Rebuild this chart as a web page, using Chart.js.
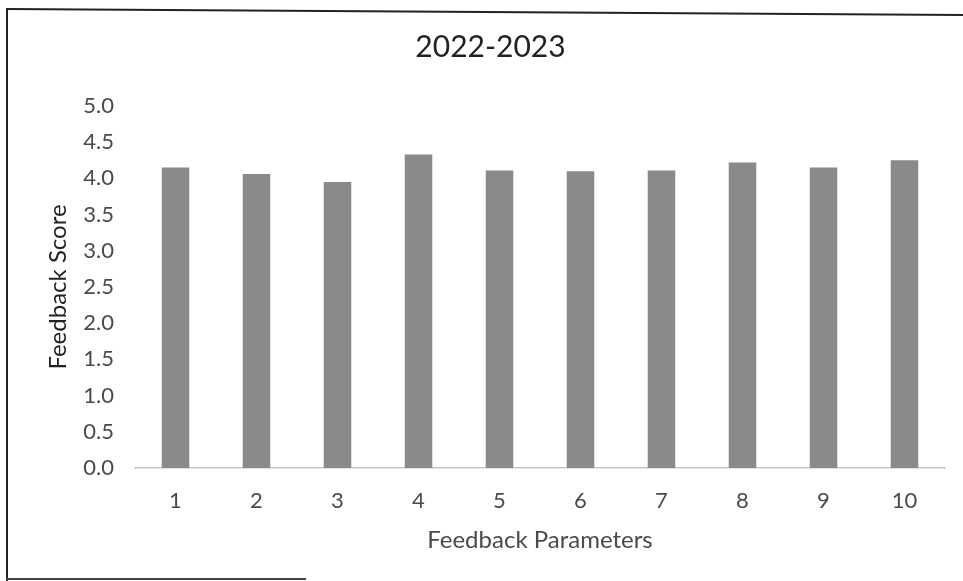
<!DOCTYPE html>
<html>
<head>
<meta charset="utf-8">
<script src="https://cdn.jsdelivr.net/npm/chart.js@4.4.0/dist/chart.umd.min.js"></script>
<style>
  html, body { margin: 0; padding: 0; background: #fff; }
  #wrap { position: relative; width: 963px; height: 581px; overflow: hidden; }
  #frameL { position: absolute; left: 6px; top: 8px; width: 2px; height: 573px; background: #222; }
  #frameT { position: absolute; left: 6px; top: 8px; width: 960px; height: 2px; background: #222;
            transform-origin: 0 0; transform: rotate(0.36deg); }
  #frameB { position: absolute; left: 6px; top: 578px; width: 300px; height: 2px; background: #444; }
  canvas { position: absolute; left: 0; top: 0; }
</style>
</head>
<body>
<div id="wrap">
  <canvas id="c" width="963" height="581"></canvas>
  <div id="frameL"></div>
  <div id="frameT"></div>
  <div id="frameB"></div>
</div>
<script>
const categories = ["1", "2", "3", "4", "5", "6", "7", "8", "9", "10"];
const feedbackScores = [4.15, 4.06, 3.95, 4.33, 4.11, 4.10, 4.11, 4.22, 4.15, 4.25];
const yTickValues = [0, 0.5, 1, 1.5, 2, 2.5, 3, 3.5, 4, 4.5, 5];
const chartTitle = "2022-2023";
const xTitle = "Feedback Parameters";
const yTitle = "Feedback Score";

const textColor = "#4a4a4a";
const fontFamily = "Lato, 'Open Sans', sans-serif";

new Chart(document.getElementById("c"), {
  type: "bar",
  data: {
    labels: categories,
    datasets: [{
      data: feedbackScores,
      backgroundColor: "#8a8a8a",
      borderWidth: 0,
      barPercentage: 0.34,
      categoryPercentage: 1.0
    }]
  },
  options: {
    responsive: false,
    animation: false,
    devicePixelRatio: 1,
    layout: { padding: { left: 36, right: 18, top: 0, bottom: 0 } },
    plugins: {
      legend: { display: false },
      tooltip: { enabled: false },
      title: {
        display: true,
        text: chartTitle,
        color: "#222",
        font: { family: fontFamily, size: 30, weight: "normal" },
        padding: { top: 29, bottom: 41 }
      }
    },
    scales: {
      x: {
        grid: { display: false, drawTicks: false },
        border: { display: true, color: "#c8c8c8", width: 1.5 },
        ticks: { color: textColor, font: { family: fontFamily, size: 22 }, padding: 20 },
        title: {
          display: true, text: xTitle, color: textColor,
          font: { family: fontFamily, size: 24 },
          padding: { top: 0, bottom: 26 }
        },
        afterFit: (s) => { s.height = 113; }
      },
      y: {
        min: 0, max: 5,
        afterBuildTicks: (s) => { s.ticks = yTickValues.map(v => ({ value: v })); },
        grid: { display: false, drawTicks: false },
        border: { display: false },
        ticks: {
          color: textColor, font: { family: fontFamily, size: 22 }, padding: 21,
          callback: (v) => Number(v).toFixed(1)
        },
        title: {
          display: true, text: yTitle, color: "#222",
          font: { family: fontFamily, size: 24 },
          padding: { top: 8, bottom: 0 }
        },
        afterFit: (s) => { s.width = 99; }
      }
    }
  }
});
</script>
</body>
</html>
